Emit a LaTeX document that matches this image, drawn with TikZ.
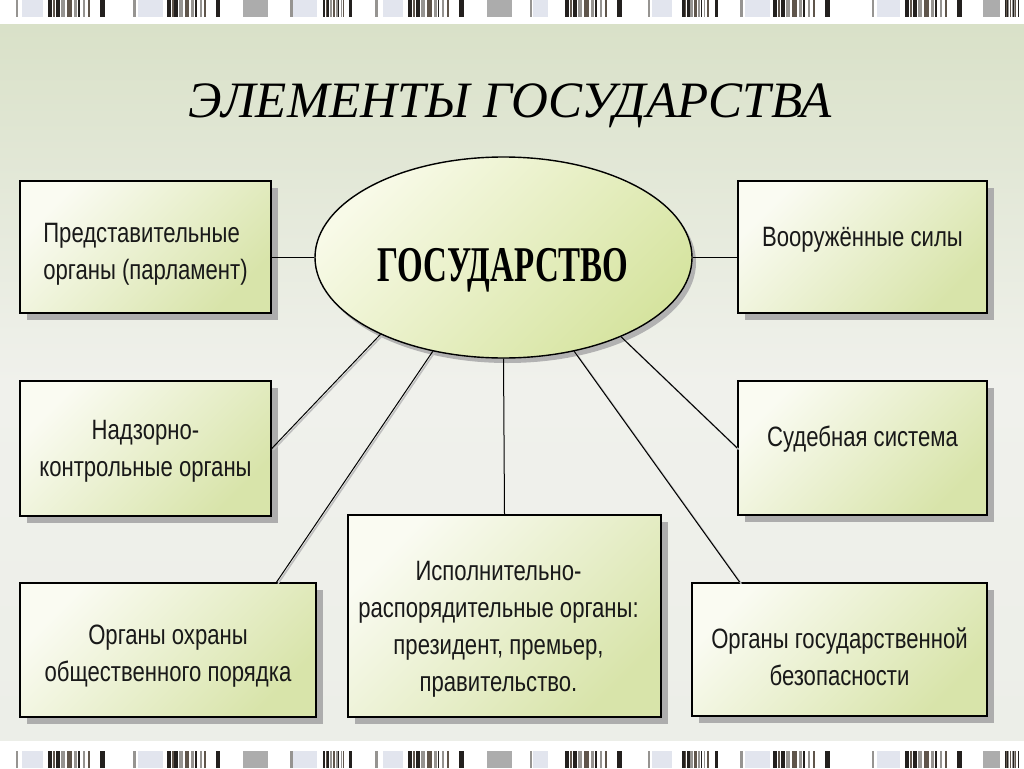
\documentclass[tikz,border=0pt]{standalone}
\usepackage{fontspec}
\newfontfamily\boxfont[FakeStretch=0.79]{Liberation Sans}
\newfontfamily\ellfont[FakeStretch=0.66]{Liberation Serif}
\newfontfamily\titlefont{Liberation Serif}
\usetikzlibrary{shapes.geometric,shadows}
\definecolor{bgtop}{RGB}{217,225,200}
\definecolor{bgmid}{RGB}{240,241,236}
\definecolor{bgbot}{RGB}{236,238,232}
\definecolor{boxlight}{RGB}{250,251,242}
\definecolor{boxdark}{RGB}{216,228,170}
\definecolor{elllight}{RGB}{248,250,232}
\definecolor{elldark}{RGB}{214,228,160}
\definecolor{barblack}{RGB}{35,32,30}
\definecolor{barbrown}{RGB}{95,85,75}
\definecolor{bargray}{RGB}{150,148,145}
\definecolor{barlight}{RGB}{226,229,238}
\definecolor{barmid}{RGB}{172,172,172}
\tikzset{
  boxnode/.style={rectangle, draw=black, line width=1.6pt, inner sep=0pt,
    top color=boxlight, bottom color=boxdark, shading angle=45,
    drop shadow={shadow xshift=7pt, shadow yshift=-7pt, fill=black!32, opacity=1}},
  boxtext/.style={inner sep=0pt, font=\boxfont\fontsize{28}{37}\selectfont, align=center, text=black!90},
  ellnode/.style={ellipse, draw=black, line width=1.4pt, inner sep=0pt,
    top color=elllight, bottom color=elldark, shading angle=45,
    drop shadow={shadow xshift=4pt, shadow yshift=-5pt, fill=black!30, opacity=1}},
  con/.style={draw=black, line width=1pt},
  conshadow/.style={draw=black!25, line width=1.6pt},
}
\newcommand\bargroup[3]{%
  \begin{scope}[shift={(#1,#3)}, xscale=#2/60]
    \fill[barblack] (0,0) rectangle (4,17);
    \fill[barbrown] (5,0) rectangle (7,17);
    \fill[barblack] (8,0) rectangle (12,17);
    \fill[bargray] (13,0) rectangle (17,17);
    \fill[barbrown] (19,0) rectangle (24,17);
    \fill[bargray] (26,0) rectangle (29,17);
    \fill[barblack] (30,0) rectangle (32,17);
    \fill[bargray] (35,0) rectangle (37,17);
    \fill[barbrown] (40,0) rectangle (42,17);
    \fill[barblack] (52,0) rectangle (57,17);
  \end{scope}}
\newcommand\stripband[1]{%
  \foreach \a/\b in {22/43,138/163,293/317,383/403,533/548,652/672,745/770,877/900}
    \fill[barlight] (\a,#1) rectangle (\b,#1+17);
  \foreach \a/\b in {16/18,133/136,290/293,375/378,530/532,648/650,740/743,872/874}
    \fill[bargray] (\a,#1) rectangle (\b,#1+17);
  \foreach \a/\b in {243/268,487/512,983/1000}
    \fill[barmid] (\a,#1) rectangle (\b,#1+17);
  \foreach \a/\w in {48/60,167/56,323/30,408/59,565/60,682/38,773/60,905/60,1005/15}
    \bargroup{\a}{\w}{#1};}
\begin{document}
\begin{tikzpicture}[x=1pt,y=-1pt]
\useasboundingbox (0,0) rectangle (1024,768);
\fill[white] (0,0) rectangle (1024,768);
\shade[top color=bgtop, bottom color=bgbot, middle color=bgmid] (0,25) rectangle (1024,740);
\stripband{0}
\stripband{751}

\node[font=\titlefont\itshape\fontsize{51}{60}\selectfont, anchor=base] (title) at (510,117) {ЭЛЕМЕНТЫ ГОСУДАРСТВА};

\node[ellnode, minimum width=377pt, minimum height=201pt] (e) at (503.5,257.5) {};
\node[font=\ellfont\bfseries\fontsize{50}{60}\selectfont, anchor=base] (etext) at (503,281) {ГОСУДАРСТВО};

\node[boxnode, minimum width=251pt, minimum height=132pt] (b1) at (145.5,247) {};
\node[boxnode, minimum width=251pt, minimum height=135pt] (b2) at (145.5,448.5) {};
\node[boxnode, minimum width=296pt, minimum height=134pt] (b3) at (168,650) {};
\node[boxnode, minimum width=313pt, minimum height=202pt] (b4) at (504.5,616) {};
\node[boxnode, minimum width=249pt, minimum height=132pt] (b5) at (862.5,247) {};
\node[boxnode, minimum width=249pt, minimum height=134pt] (b6) at (862.5,448) {};
\node[boxnode, minimum width=295pt, minimum height=133pt] (b7) at (839.5,649.5) {};

\node[boxtext, align=left] (t1) at ([yshift=-7pt]b1.center) {Представительные\\органы (парламент)};
\node[boxtext] (t2) at ([yshift=-3pt]b2.center) {Надзорно-\\контрольные органы};
\node[boxtext] (t3) at ([yshift=-6pt]b3.center) {Органы охраны\\общественного порядка};
\node[boxtext] (t4) at ([xshift=-6pt,yshift=-13pt]b4.center) {Исполнительно-\\распорядительные органы:\\президент, премьер,\\правительство.};
\node[boxtext] (t5) at ([yshift=7pt]b5.center) {Вооружённые силы};
\node[boxtext] (t6) at ([yshift=9pt]b6.center) {Судебная система};
\node[boxtext] (t7) at ([yshift=-7pt]b7.center) {Органы государственной\\безопасности};

\begin{scope}[transform canvas={shift={(1.5pt,-1.5pt)}}]
\draw[conshadow] (b2.east) -- (e.212.7);
\draw[conshadow] (b3.32.5) -- (e.233.3);
\draw[conshadow] (b7.146.2) -- (e.307.8);
\draw[conshadow] (b6.west) -- (e.326.9);
\end{scope}
\draw[con] (e.west) -- (e.west -| b1.east);
\draw[con] (e.east) -- (e.east -| b5.west);
\draw[con] (b2.east) -- (e.212.7);
\draw[con] (b3.32.5) -- (e.233.3);
\draw[con] (b4.north) -- (e.south);
\draw[con] (b7.146.2) -- (e.307.8);
\draw[con] (b6.west) -- (e.326.9);
\end{tikzpicture}
\end{document}
